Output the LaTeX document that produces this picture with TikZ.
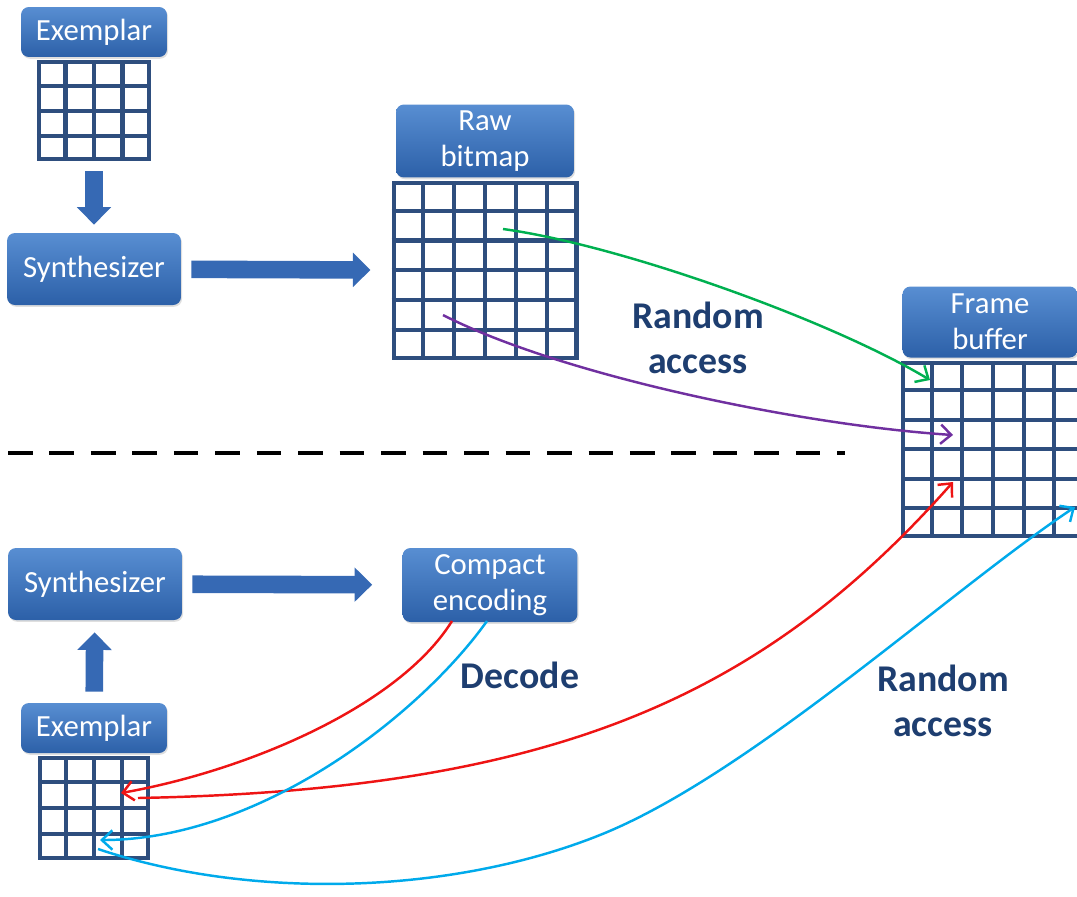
\documentclass[tikz,border=0pt]{standalone}
\usepackage{fontspec}
\setmainfont{Carlito}
\usetikzlibrary{arrows.meta,positioning,calc,shadows}
\definecolor{kekfel}{RGB}{88,142,210}
\definecolor{kekle}{RGB}{44,96,168}
\definecolor{racskek}{RGB}{46,78,126}
\definecolor{nyilkek}{RGB}{54,105,180}
\definecolor{sotetkek}{RGB}{30,62,112}
\definecolor{zold}{RGB}{0,176,80}
\definecolor{lila}{RGB}{112,48,160}
\definecolor{piros}{RGB}{238,20,20}
\definecolor{cian}{RGB}{0,170,235}
\newcommand{\racsvonalak}[3]{%
  \pgfmathtruncatemacro\oszlop{#2-1}\pgfmathtruncatemacro\sor{#3-1}%
  \foreach \i in {1,...,\oszlop}
    \draw[racs] ($(#1.north west)!\i/#2!(#1.north east)$) -- ($(#1.south west)!\i/#2!(#1.south east)$);
  \foreach \j in {1,...,\sor}
    \draw[racs] ($(#1.north west)!\j/#3!(#1.south west)$) -- ($(#1.north east)!\j/#3!(#1.south east)$);
}
\tikzset{
  doboz/.style={rounded corners=4.5pt,top color=kekfel,bottom color=kekle,text=white,align=center,
                font=\fontsize{17.5}{20.5}\selectfont,
                drop shadow={opacity=0.25,shadow xshift=0.6pt,shadow yshift=-1pt}},
  racs/.style={draw=racskek,line width=2.3pt},
  blokknyil/.style={draw=nyilkek,line width=10pt,-{Triangle[length=10pt,width=19pt]}},
  gorbe/.style={line width=1.4pt,-{Straight Barb[length=6pt,width=11pt]}},
  szaggatott/.style={line width=2.8pt,dash pattern=on 14pt off 9.6pt},
  felirat/.style={text=sotetkek,align=center,font=\bfseries\fontsize{21.5}{26}\selectfont},
}
\begin{document}
\begin{tikzpicture}[x=0.02cm,y=-0.02cm]
  \useasboundingbox (0,0) rectangle (1077,896);
  % upper half: raw bitmap
  \node[doboz,minimum width=2.92cm,minimum height=1cm] (ex1) at (94,32) {Exemplar};
  \node[racs,minimum width=2.2cm,minimum height=1.94cm,below=0.06cm of ex1] (exracs1) {};
  \node[doboz,minimum width=3.48cm,minimum height=1.44cm] (szint1) at (94,269) {Synthesizer};
  \node[doboz,minimum width=3.56cm,minimum height=1.46cm] (raw) at (485,141) {Raw\\bitmap};
  \node[racs,minimum width=3.66cm,minimum height=3.5cm,below=0.06cm of raw] (rawracs) {};
  \node[doboz,minimum width=3.5cm,minimum height=1.42cm] (frame) at (990,322) {Frame\\buffer};
  \node[racs,minimum width=3.6cm,minimum height=3.46cm,below=0.06cm of frame,xshift=0.06cm] (fbracs) {};
  \racsvonalak{exracs1}{4}{4}
  \racsvonalak{rawracs}{6}{6}
  \racsvonalak{fbracs}{6}{6}
  \draw[blokknyil,shorten <=0.2cm,shorten >=0.16cm] (exracs1) -- (szint1);
  \draw[blokknyil,shorten <=0.2cm,shorten >=0.42cm] (szint1) -- (rawracs);
  \node[felirat] (rand1) at (698,338) {Random\\access};
  % lower half: compact encoding
  \node[doboz,minimum width=3.48cm,minimum height=1.44cm] (szint2) at (95,584) {Synthesizer};
  \node[doboz,minimum width=3.5cm,minimum height=1.48cm] (kompakt) at (490,585) {Compact\\encoding};
  \node[doboz,minimum width=2.92cm,minimum height=1cm] (ex2) at (94,728) {Exemplar};
  \node[racs,minimum width=2.16cm,minimum height=2cm,below=0.06cm of ex2] (exracs2) {};
  \racsvonalak{exracs2}{4}{4}
  \draw[blokknyil,shorten <=0.2cm,shorten >=0.6cm] (szint2) -- (kompakt);
  \draw[blokknyil,shorten <=0.22cm,shorten >=0.24cm] (ex2) -- (szint2);
  \node[felirat] (dekod) at (520,675) {Decode};
  \node[felirat] (rand2) at (943,701) {Random\\access};
  % separator
  \coordinate (szagL) at (8,453);
  \coordinate (szagR) at (845,453);
  \draw[szaggatott] (szagL) -- (szagR);
  % access paths
  \coordinate (zoldA) at (503,229);  \coordinate (zoldB) at (930,380);
  \coordinate (lilaA) at (443,315);  \coordinate (lilaB) at (953,435);
  \coordinate (pirosK) at (452,621); \coordinate (pirosE) at (121,793);
  \coordinate (pirosE2) at (138,798); \coordinate (pirosF) at (953,482);
  \coordinate (cianK) at (487,621);  \coordinate (cianE) at (100,840);
  \coordinate (cianE2) at (98,849);  \coordinate (cianF) at (1075,507);
  \draw[gorbe,zold] (zoldA) .. controls (620,245) and (830,320) .. (zoldB);
  \draw[gorbe,lila] (lilaA) .. controls (560,375) and (800,425) .. (lilaB);
  \draw[gorbe,piros] (pirosK) .. controls (400,705) and (250,770) .. (pirosE);
  \draw[gorbe,piros] (pirosE2) .. controls (550,790) and (760,700) .. (pirosF);
  \draw[gorbe,cian] (cianK) .. controls (420,715) and (260,840) .. (cianE);
  \draw[gorbe,cian] (cianE2) .. controls (250,900) and (450,895) .. (600,835)
                    .. controls (750,775) and (950,590) .. (cianF);
\end{tikzpicture}
\end{document}
